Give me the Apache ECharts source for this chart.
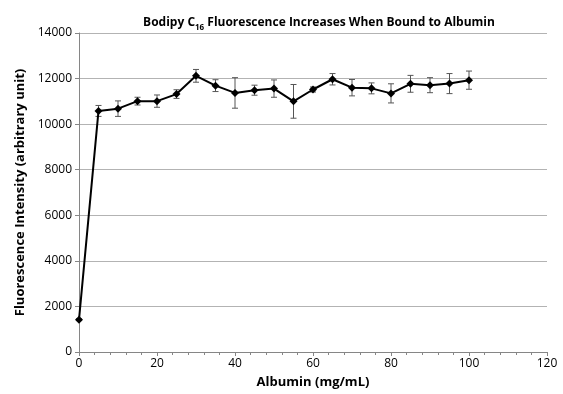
<!DOCTYPE html>
<html><head><meta charset="utf-8">
<script src="https://cdn.jsdelivr.net/npm/echarts@6/dist/echarts.min.js"></script>
<style>html,body{margin:0;padding:0;background:#fff}#c{width:563px;height:394px}</style>
</head><body><div id="c"></div>
<script>
var albumin = [0,5,10,15,20,25,30,35,40,45,50,55,60,65,70,75,80,85,90,95,100];
var intensity = [1420,10580,10680,11010,11010,11320,12120,11690,11370,11490,11560,11000,11520,11970,11600,11570,11350,11770,11710,11780,11930];
var errors = [40,240,340,170,270,190,280,260,670,220,380,740,110,250,360,240,420,370,330,440,400];
var xTicks = [0,20,40,60,80,100,120];
var yTicks = [0,2000,4000,6000,8000,10000,12000,14000];

var font = 'Open Sans';
var pts = albumin.map(function(x,i){return [x,intensity[i]];});
var errData = albumin.map(function(x,i){return [x,intensity[i]-errors[i],intensity[i]+errors[i]];});

var chart = echarts.init(document.getElementById('c'));
chart.setOption({
  animation:false,
  backgroundColor:'#fff',
  title:{
    text:'{a|Bodipy C}{s|16}{a| Fluorescence Increases When Bound to Albumin}',
    left:314, top:9, textAlign:'center',
    textStyle:{rich:{
      a:{fontFamily:font,fontSize:12,fontWeight:'bold',color:'#000',lineHeight:18,verticalAlign:'middle'},
      s:{fontFamily:font,fontSize:8,fontWeight:'bold',color:'#000',lineHeight:18,verticalAlign:'middle',padding:[9,0,0,0]}
    }}
  },
  grid:{left:79,right:16,top:33,bottom:42},
  xAxis:{
    type:'value',min:xTicks[0],max:xTicks[xTicks.length-1],interval:20,
    name:'Albumin (mg/mL)',nameLocation:'middle',nameGap:24,
    nameTextStyle:{fontFamily:font,fontSize:13,fontWeight:'bold',color:'#000'},
    axisLine:{lineStyle:{color:'#868686',width:1}},
    axisTick:{show:true,length:4,lineStyle:{color:'#868686'}},
    minorTick:{show:true,splitNumber:5,length:3,lineStyle:{color:'#868686'}},
    splitLine:{show:false},
    axisLabel:{fontFamily:font,fontSize:12,color:'#000',margin:6}
  },
  yAxis:{
    type:'value',min:yTicks[0],max:yTicks[yTicks.length-1],interval:2000,
    name:'Fluorescence Intensity (arbitrary unit)',nameLocation:'middle',nameGap:48,
    nameTextStyle:{fontFamily:font,fontSize:13,fontWeight:'bold',color:'#000'},
    axisLine:{show:true,lineStyle:{color:'#868686',width:1}},
    axisTick:{show:true,length:4,lineStyle:{color:'#868686'}},
    splitLine:{show:true,lineStyle:{color:'#b3b3b3',width:1}},
    axisLabel:{fontFamily:font,fontSize:12,color:'#000',margin:7,formatter:function(v){return String(v);}}
  },
  series:[
    {
      type:'custom',
      data:errData,
      z:3,
      renderItem:function(params,api){
        var x=api.value(0);
        var lo=api.coord([x,api.value(1)]);
        var hi=api.coord([x,api.value(2)]);
        var w=3;
        var st={stroke:'#555',lineWidth:1};
        return {type:'group',children:[
          {type:'line',shape:{x1:lo[0],y1:lo[1],x2:hi[0],y2:hi[1]},style:st},
          {type:'line',shape:{x1:lo[0]-w,y1:lo[1],x2:lo[0]+w,y2:lo[1]},style:st},
          {type:'line',shape:{x1:hi[0]-w,y1:hi[1],x2:hi[0]+w,y2:hi[1]},style:st}
        ]};
      }
    },
    {
      type:'line',
      data:pts,
      z:4,
      symbol:'diamond',symbolSize:8,
      itemStyle:{color:'#000'},
      lineStyle:{color:'#000',width:2}
    }
  ]
});
</script>
</body></html>
